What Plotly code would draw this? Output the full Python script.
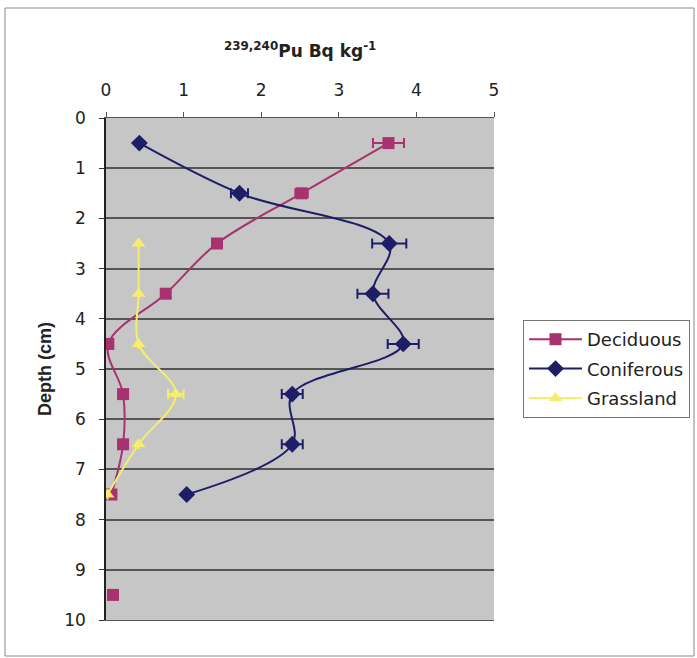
import plotly.graph_objects as go

depth = [0.5, 1.5, 2.5, 3.5, 4.5, 5.5, 6.5, 7.5, 8.5, 9.5]

deciduous = [3.64, 2.52, 1.43, 0.77, 0.03, 0.22, 0.22, 0.07, None, 0.09]
deciduous_err = [0.2, 0.08, 0, 0, 0, 0, 0, 0, 0, 0]

coniferous = [0.43, 1.72, 3.65, 3.44, 3.83, 2.40, 2.40, 1.04, None, None]
coniferous_err = [0, 0.11, 0.22, 0.2, 0.2, 0.135, 0.135, 0, 0, 0]

grassland = [None, None, 0.42, 0.42, 0.42, 0.90, 0.42, 0.02, None, None]
grassland_err = [0, 0, 0, 0, 0, 0.1, 0, 0, 0, 0]

x_ticks = [0, 1, 2, 3, 4, 5]
y_ticks = list(range(0, 11))

C_DEC = "#A8326E"
C_CON = "#1E1E66"
C_GRA = "#F4EE6A"

fig = go.Figure()

fig.add_trace(go.Scatter(
    x=deciduous, y=depth, name="Deciduous", mode="lines+markers", legendgroup="d",
    line=dict(color=C_DEC, width=2, shape="spline"),
    marker=dict(symbol="square", size=12, color=C_DEC),
    error_x=dict(type="data", array=deciduous_err, color=C_DEC, thickness=2, width=5),
    connectgaps=False,
))
fig.add_trace(go.Scatter(
    x=coniferous, y=depth, name="Coniferous", mode="lines+markers", legendgroup="c",
    line=dict(color=C_CON, width=2, shape="spline"),
    marker=dict(symbol="diamond", size=13, color=C_CON),
    error_x=dict(type="data", array=coniferous_err, color=C_CON, thickness=2, width=5),
    connectgaps=False,
))
fig.add_trace(go.Scatter(
    x=grassland, y=depth, name="Grassland", mode="lines+markers", legendgroup="g",
    line=dict(color=C_GRA, width=2, shape="spline"),
    marker=dict(symbol="triangle-up", size=12, color=C_GRA),
    error_x=dict(type="data", array=grassland_err, color=C_GRA, thickness=2, width=5),
    connectgaps=False,
))

wide = "DejaVu Sans, sans-serif"
narrow = "Liberation Sans, Arial, sans-serif"

fig.update_layout(
    width=697, height=658,
    margin=dict(l=106, r=203, t=118, b=38, autoexpand=False),
    paper_bgcolor="white",
    plot_bgcolor="#c6c6c6",
    font=dict(family=wide, size=17, color="#222222"),
    showlegend=True,
    legend=dict(
        x=(523 - 106) / 388, y=(620 - 320) / 502, xanchor="left", yanchor="top",
        bgcolor="white", bordercolor="#777777", borderwidth=1,
        font=dict(size=18, family=wide, color="#222222"),
        tracegroupgap=3, itemwidth=53,
    ),
    xaxis=dict(
        side="top", range=[0, 5], tickvals=x_ticks, ticktext=[str(v) for v in x_ticks],
        showgrid=False, zeroline=False, showline=True, linecolor="#555555", linewidth=1,
        ticks="outside", ticklen=5, tickcolor="#555555", mirror=True,
        ticklabelstandoff=9, automargin=False,
    ),
    yaxis=dict(
        range=[10, 0], tickvals=y_ticks, ticktext=[str(v) for v in y_ticks],
        showgrid=True, gridcolor="#555555", gridwidth=1.5, zeroline=False,
        showline=True, linecolor="#222222", linewidth=1.5, mirror=False,
        ticks="outside", ticklen=5, tickcolor="#333333",
        ticklabelstandoff=10, automargin=False,
    ),
    annotations=[
        dict(text="<sup>239,240</sup>Pu Bq kg<sup>-1</sup>", x=0.5, y=(620 - 50) / 502,
             xref="paper", yref="paper", showarrow=False, yanchor="middle",
             font=dict(size=17, family=wide, color="#222222", weight="bold")),
        dict(text="<b>Depth (cm)</b>", x=(45 - 106) / 388, y=0.5, xref="paper", yref="paper",
             showarrow=False, textangle=-90, xanchor="center", yanchor="middle",
             font=dict(size=18, family=narrow, color="#222222")),
    ],
    shapes=[
        dict(type="rect", xref="paper", yref="paper",
             x0=(5 - 106) / 388, x1=(694 - 106) / 388,
             y0=(620 - 656) / 502, y1=(620 - 8) / 502,
             line=dict(color="#888888", width=1), fillcolor="rgba(0,0,0,0)", layer="below"),
    ],
)

fig.write_html("out.html")
